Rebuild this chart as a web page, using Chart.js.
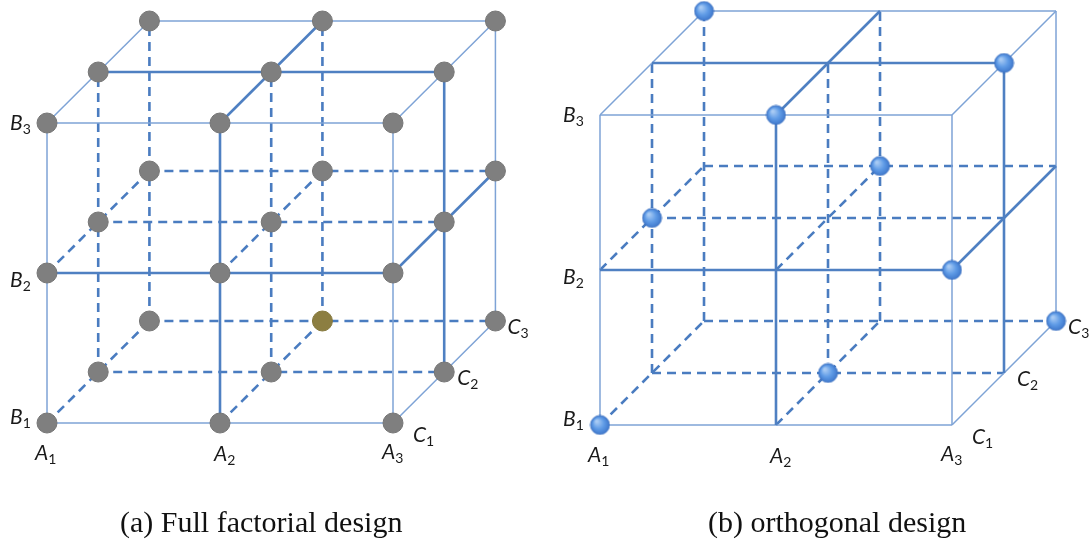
<!DOCTYPE html>
<html>
<head>
<meta charset="utf-8">
<title>Full factorial vs orthogonal design</title>
<script src="https://cdn.jsdelivr.net/npm/chart.js@4/dist/chart.umd.min.js"></script>
<style>
    html, body { margin: 0; padding: 0; background: #ffffff; }
    #page { position: relative; width: 1091px; height: 546px; overflow: hidden; }
    .panel { position: absolute; top: 0; width: 546px; height: 546px; }
    .caption {
        position: absolute; top: 507px;
        font-family: "Liberation Serif", "Times New Roman", serif;
        font-size: 30px; line-height: 30px; color: #111111; white-space: nowrap;
    }
</style>
</head>
<body>
<div id="page">
    <div class="panel" style="left:0"><canvas id="fullChart" width="545" height="546"></canvas></div>
    <div class="panel" style="left:545px"><canvas id="orthoChart" width="546" height="546"></canvas></div>
    <div class="caption" style="left:120px">(a) Full factorial design</div>
    <div class="caption" style="left:708px">(b) orthogonal design</div>
</div>
<script>
// ==========================================
// DATA
// ==========================================

// three factors, three levels each (index 0..2 = level 1..3)
const factorNames = ['A', 'B', 'C'];
const levelSubs = ['1', '2', '3'];
const levels = [0, 1, 2];

// full factorial: every [a, b, c] combination
const fullDesign = [
    [0, 0, 0], [1, 0, 0], [2, 0, 0], [0, 1, 0], [1, 1, 0], [2, 1, 0], [0, 2, 0], [1, 2, 0], [2, 2, 0],
    [0, 0, 1], [1, 0, 1], [2, 0, 1], [0, 1, 1], [1, 1, 1], [2, 1, 1], [0, 2, 1], [1, 2, 1], [2, 2, 1],
    [0, 0, 2], [1, 0, 2], [2, 0, 2], [0, 1, 2], [1, 1, 2], [2, 1, 2], [0, 2, 2], [1, 2, 2], [2, 2, 2]
];
// the one run drawn in a different colour
const highlightedRuns = [[1, 0, 2]];

// orthogonal (L9) design
const orthogonalDesign = [
    [0, 0, 0], [1, 0, 1], [2, 0, 2],
    [0, 1, 1], [1, 1, 2], [2, 1, 0],
    [0, 2, 2], [1, 2, 0], [2, 2, 1]
];

// ==========================================
// LAYOUT / STYLE
// ==========================================

const LINE_STYLES = {
    thin:   { color: '#7ea3d6', width: 1.5, dash: [], order: 3 },
    thick:  { color: '#4f80c2', width: 2.6, dash: [], order: 2 },
    dashed: { color: '#4a7cc0', width: 2.6, dash: [9, 6], order: 4 }
};

// label offsets in px from the lattice point (text left, baseline)
const labelOffsets = {
    A: [[-12, 37], [-6, 38], [-11, 36]],
    B: [[-37, 1], [-37, 14], [-37, 7]],
    C: [[20, 19], [13, 13], [12, 13]]
};

// visible faces of the cube: a = 3 (right), b = 3 (top), c = 1 (front)
const visibleSide = [2, 2, 0];
const otherAxes = [[1, 2], [0, 2], [0, 1]];

const project = (p, cube) => ({
    x: p[0] + p[2] * cube.kx,
    y: p[1] + p[2] * cube.ky
});

const isExtreme = v => v === 0 || v === 2;

const lineStyle = (i, u, j, v) => {
    const visible = u === visibleSide[i] || v === visibleSide[j];
    if (!visible) return 'dashed';
    return (isExtreme(u) && isExtreme(v)) ? 'thin' : 'thick';
};

const buildGridDatasets = (cube) => {
    const sets = [];
    for (let d = 0; d < 3; d++) {
        const [i, j] = otherAxes[d];
        levels.forEach(u => {
            levels.forEach(v => {
                const start = [0, 0, 0];
                start[i] = u; start[j] = v; start[d] = levels[0];
                const end = start.slice();
                end[d] = levels[levels.length - 1];
                const st = LINE_STYLES[lineStyle(i, u, j, v)];
                sets.push({
                    type: 'scatter',
                    data: [project(start, cube), project(end, cube)],
                    showLine: true,
                    borderColor: st.color,
                    borderWidth: st.width,
                    borderDash: st.dash,
                    borderCapStyle: 'butt',
                    pointRadius: 0,
                    pointHoverRadius: 0,
                    order: st.order,
                    clip: false
                });
            });
        });
    }
    return sets;
};

// small shaded sphere used for the orthogonal design points
const makeSphere = (r) => {
    const c = document.createElement('canvas');
    const size = Math.ceil(r * 2 + 2);
    c.width = size; c.height = size;
    const g = c.getContext('2d');
    const cx = size / 2, cy = size / 2;
    const grad = g.createRadialGradient(cx - r * 0.35, cy - r * 0.4, r * 0.1, cx, cy, r);
    grad.addColorStop(0, '#a9cbf4');
    grad.addColorStop(0.55, '#5f9be6');
    grad.addColorStop(1, '#3f78cc');
    g.beginPath();
    g.arc(cx, cy, r, 0, Math.PI * 2);
    g.fillStyle = grad;
    g.fill();
    g.lineWidth = 0.8;
    g.strokeStyle = '#3a6fbf';
    g.stroke();
    return c;
};

// ==========================================
// AXIS LETTER PLUGIN
// ==========================================

const cubeLabels = {
    id: 'cubeLabels',
    afterDatasetsDraw(chart, args, opts) {
        const { ctx, scales } = chart;
        const cube = opts.cube;
        ctx.save();
        ctx.fillStyle = '#1a1a1a';
        ctx.textBaseline = 'alphabetic';
        factorNames.forEach((name, f) => {
            levels.forEach(lv => {
                // A labels along bottom-front, B along left-front, C along bottom-right
                const p = f === 0 ? [lv, 0, 0] : f === 1 ? [0, lv, 0] : [2, 0, lv];
                const q = project(p, cube);
                const off = labelOffsets[name][lv];
                const x = scales.x.getPixelForValue(q.x) + off[0];
                const y = scales.y.getPixelForValue(q.y) + off[1];
                ctx.font = 'italic 21px Lato, "Open Sans", sans-serif';
                ctx.fillText(name, x, y);
                const w = ctx.measureText(name).width;
                ctx.font = '14px Lato, "Open Sans", sans-serif';
                ctx.fillText(levelSubs[lv], x + w, y + 4);
            });
        });
        ctx.restore();
    }
};

// ==========================================
// CHARTS
// ==========================================

const makeCube = (canvasId, cube, pointSets) => {
    const ctx = document.getElementById(canvasId).getContext('2d');
    return new Chart(ctx, {
        type: 'scatter',
        data: { datasets: buildGridDatasets(cube).concat(pointSets) },
        options: {
            responsive: false,
            animation: false,
            layout: { padding: 0, autoPadding: false },
            events: [],
            scales: {
                x: { type: 'linear', display: false, min: cube.xRange[0], max: cube.xRange[1] },
                y: { type: 'linear', display: false, min: cube.yRange[0], max: cube.yRange[1] }
            },
            plugins: {
                legend: { display: false },
                tooltip: { enabled: false },
                cubeLabels: { cube: cube }
            }
        },
        plugins: [cubeLabels]
    });
};

const fullCube = { kx: 0.296, ky: 0.34, xRange: [-0.2717, 2.8786], yRange: [-0.82, 2.82] };
const orthoCube = { kx: 0.2955, ky: 0.3355, xRange: [-0.3125, 2.7898], yRange: [-0.781, 2.742] };

const isHighlighted = p => highlightedRuns.some(h => h[0] === p[0] && h[1] === p[1] && h[2] === p[2]);

makeCube('fullChart', fullCube, [
    {
        data: fullDesign.filter(p => !isHighlighted(p)).map(p => project(p, fullCube)),
        pointStyle: 'circle',
        pointRadius: 10,
        pointBackgroundColor: '#7f7f7f',
        pointBorderColor: '#767676',
        pointBorderWidth: 1,
        showLine: false,
        order: 1,
        clip: false
    },
    {
        data: highlightedRuns.map(p => project(p, fullCube)),
        pointStyle: 'circle',
        pointRadius: 10,
        pointBackgroundColor: '#8c7e41',
        pointBorderColor: '#85783c',
        pointBorderWidth: 1,
        showLine: false,
        order: 0,
        clip: false
    }
]);

makeCube('orthoChart', orthoCube, [
    {
        data: orthogonalDesign.map(p => project(p, orthoCube)),
        pointStyle: makeSphere(9.5),
        pointRadius: 10,
        showLine: false,
        order: 0,
        clip: false
    }
]);
</script>
</body>
</html>
